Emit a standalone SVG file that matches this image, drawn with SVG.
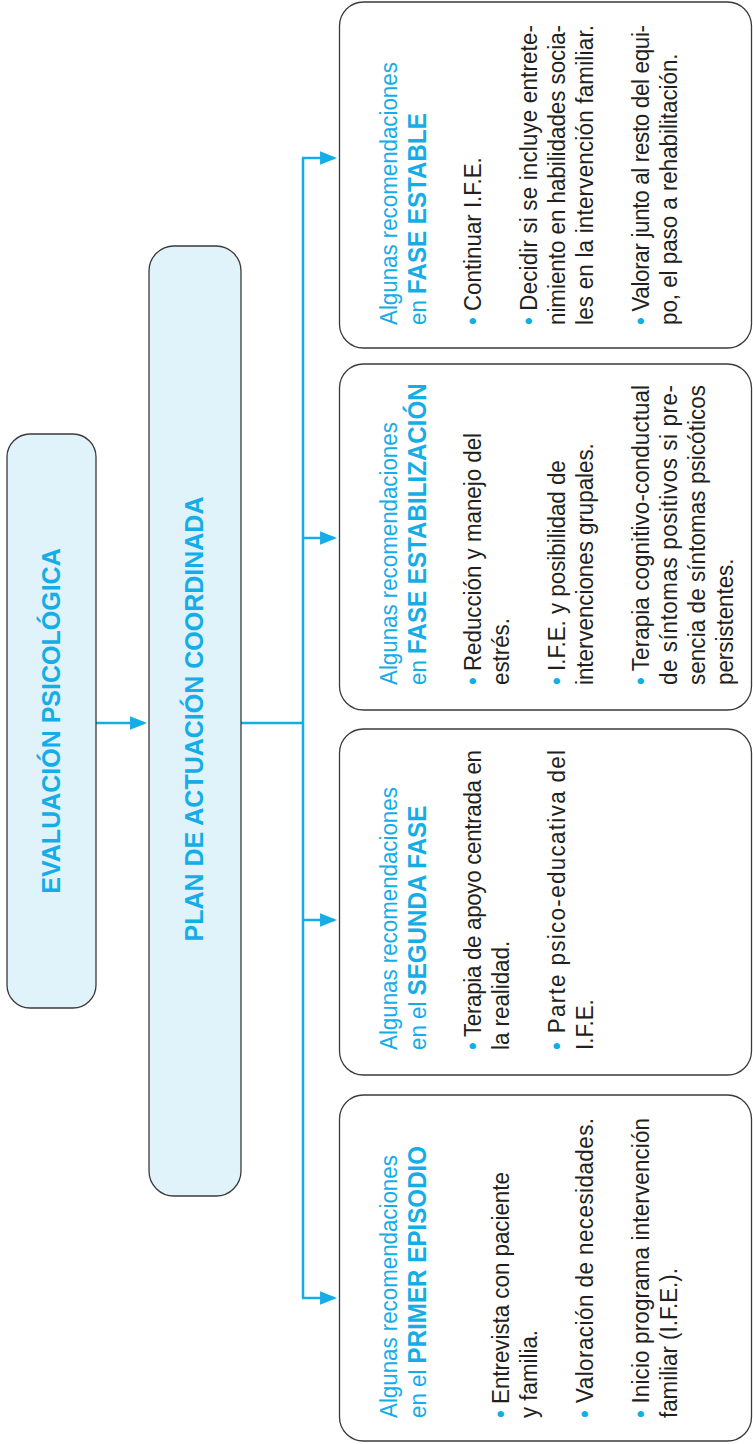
<svg xmlns="http://www.w3.org/2000/svg" width="753" height="1444" viewBox="0 0 753 1444">
<defs>
<style>
.box{fill:#ffffff;stroke:#3a3a3a;stroke-width:1.3}
.lbox{fill:#e0f2fa;stroke:#3a3a3a;stroke-width:1.3}
.t{font-family:"Liberation Sans",Arial,sans-serif;font-size:24px;fill:#231f20}
.h{fill:#14ade8}
.b{font-weight:bold;font-size:26px}
.c{fill:#14ade8}
.title{font-family:"Liberation Sans",Arial,sans-serif;font-weight:bold;font-size:25px;fill:#14ade8;text-anchor:middle}
.conn{stroke:#14ade8;stroke-width:2.5;fill:none}
</style>
<marker id="ah" viewBox="0 0 10 8" refX="8.2" refY="4" markerWidth="17" markerHeight="14" markerUnits="userSpaceOnUse" orient="auto">
<path d="M0,0 L10,4 L0,8 z" fill="#14ade8"/>
</marker>
</defs>
<rect width="753" height="1444" fill="#ffffff"/>

<g id="connectors">
<path class="conn" d="M96,723 H144" marker-end="url(#ah)"/>
<path class="conn" d="M241,723 H303"/>
<path class="conn" d="M303,158 V1298"/>
<path class="conn" d="M302,158 H334" marker-end="url(#ah)"/>
<path class="conn" d="M303,538 H334" marker-end="url(#ah)"/>
<path class="conn" d="M303,920 H334" marker-end="url(#ah)"/>
<path class="conn" d="M302,1298 H334" marker-end="url(#ah)"/>
</g>

<g id="evaluacion">
<rect class="lbox" x="7" y="434" width="89" height="574" rx="23"/>
<text class="title" transform="translate(60,721) rotate(-90)">EVALUACIÓN PSICOLÓGICA</text>
</g>

<g id="plan">
<rect class="lbox" x="149" y="246" width="92" height="950" rx="25"/>
<text class="title" transform="translate(203,719) rotate(-90)">PLAN DE ACTUACIÓN COORDINADA</text>
</g>

<g id="fase-estable">
<rect class="box" x="339.5" y="2" width="412" height="346" rx="24"/>
<text class="t h" transform="translate(397,325) rotate(-90) scale(0.93,1)">Algunas recomendaciones</text>
<text class="t h" transform="translate(426,325) rotate(-90) scale(0.93,1)">en <tspan class="b">FASE ESTABLE</tspan></text>
<text class="t" transform="translate(481,325) rotate(-90) scale(0.93,1)"><tspan class="c">•</tspan> Continuar I.F.E.</text>
<text class="t" transform="translate(537,325) rotate(-90) scale(0.93,1)" textLength="322.6" lengthAdjust="spacing"><tspan class="c">•</tspan> Decidir si se incluye entrete-</text>
<text class="t" transform="translate(565,325) rotate(-90) scale(0.93,1)" textLength="322.6" lengthAdjust="spacing">nimiento en habilidades socia-</text>
<text class="t" transform="translate(593,325) rotate(-90) scale(0.93,1)" textLength="322.6" lengthAdjust="spacing">les en la intervención familiar.</text>
<text class="t" transform="translate(649,325) rotate(-90) scale(0.93,1)" textLength="322.6" lengthAdjust="spacing"><tspan class="c">•</tspan> Valorar junto al resto del equi-</text>
<text class="t" transform="translate(677,325) rotate(-90) scale(0.93,1)">po, el paso a rehabilitación.</text>
</g>

<g id="fase-estabilizacion">
<rect class="box" x="339.5" y="364" width="412" height="346" rx="24"/>
<text class="t h" transform="translate(397,685) rotate(-90) scale(0.93,1)">Algunas recomendaciones</text>
<text class="t h" transform="translate(426,685) rotate(-90) scale(0.93,1)">en <tspan class="b">FASE ESTABILIZACIÓN</tspan></text>
<text class="t" transform="translate(481,685) rotate(-90) scale(0.93,1)"><tspan class="c">•</tspan> Reducción y manejo del</text>
<text class="t" transform="translate(509,685) rotate(-90) scale(0.93,1)">estrés.</text>
<text class="t" transform="translate(565,685) rotate(-90) scale(0.93,1)"><tspan class="c">•</tspan> I.F.E. y posibilidad de</text>
<text class="t" transform="translate(593,685) rotate(-90) scale(0.93,1)">intervenciones grupales.</text>
<text class="t" transform="translate(649,685) rotate(-90) scale(0.93,1)" textLength="322.6" lengthAdjust="spacing"><tspan class="c">•</tspan> Terapia cognitivo-conductual</text>
<text class="t" transform="translate(677,685) rotate(-90) scale(0.93,1)" textLength="322.6" lengthAdjust="spacing">de síntomas positivos si pre-</text>
<text class="t" transform="translate(705,685) rotate(-90) scale(0.93,1)" textLength="322.6" lengthAdjust="spacing">sencia de síntomas psicóticos</text>
<text class="t" transform="translate(733,685) rotate(-90) scale(0.93,1)">persistentes.</text>
</g>

<g id="segunda-fase">
<rect class="box" x="339.5" y="729" width="412" height="346" rx="24"/>
<text class="t h" transform="translate(397,1050) rotate(-90) scale(0.93,1)">Algunas recomendaciones</text>
<text class="t h" transform="translate(426,1050) rotate(-90) scale(0.93,1)">en el <tspan class="b">SEGUNDA FASE</tspan></text>
<text class="t" transform="translate(481,1050) rotate(-90) scale(0.93,1)" textLength="322.6" lengthAdjust="spacing"><tspan class="c">•</tspan> Terapia de apoyo centrada en</text>
<text class="t" transform="translate(509,1050) rotate(-90) scale(0.93,1)">la realidad.</text>
<text class="t" transform="translate(565,1050) rotate(-90) scale(0.93,1)" textLength="322.6" lengthAdjust="spacing"><tspan class="c">•</tspan> Parte psico-educativa del</text>
<text class="t" transform="translate(593,1050) rotate(-90) scale(0.93,1)">I.F.E.</text>
</g>

<g id="primer-episodio">
<rect class="box" x="339.5" y="1095" width="412" height="346" rx="24"/>
<text class="t h" transform="translate(397,1418) rotate(-90) scale(0.93,1)">Algunas recomendaciones</text>
<text class="t h" transform="translate(426,1418) rotate(-90) scale(0.93,1)">en el <tspan class="b">PRIMER EPISODIO</tspan></text>
<text class="t" transform="translate(509,1418) rotate(-90) scale(0.93,1)"><tspan class="c">•</tspan> Entrevista con paciente</text>
<text class="t" transform="translate(537,1418) rotate(-90) scale(0.93,1)">y familia.</text>
<text class="t" transform="translate(593,1418) rotate(-90) scale(0.93,1)" textLength="322.6" lengthAdjust="spacing"><tspan class="c">•</tspan> Valoración de necesidades.</text>
<text class="t" transform="translate(649,1418) rotate(-90) scale(0.93,1)" textLength="322.6" lengthAdjust="spacing"><tspan class="c">•</tspan> Inicio programa intervención</text>
<text class="t" transform="translate(677,1418) rotate(-90) scale(0.93,1)">familiar (I.F.E.).</text>
</g>
</svg>
